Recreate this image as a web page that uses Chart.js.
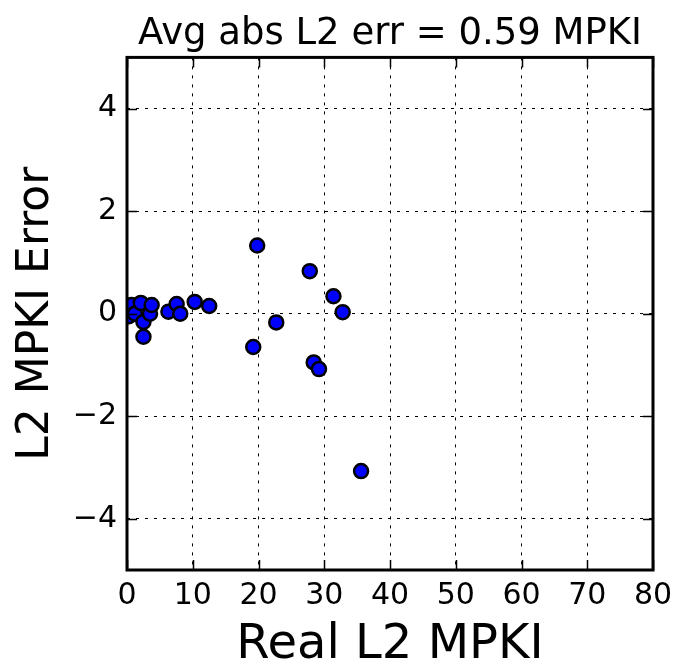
<!DOCTYPE html>
<html>
<head>
<meta charset="utf-8">
<script src="https://cdn.jsdelivr.net/npm/chart.js@4/dist/chart.umd.min.js"></script>
<style>
  html, body { margin: 0; padding: 0; background: #fff; }
  #wrap { width: 681px; height: 668px; }
</style>
</head>
<body>
<div id="wrap"><canvas id="chart" width="681" height="668"></canvas></div>
<script>
// --- data ---
const realMpki = [0.3, 0.7, 1.2, 2.1, 2.5, 2.5, 3.5, 3.75, 6.3, 7.55, 8.1, 10.3, 12.5,
                  19.2, 19.8, 22.7, 27.8, 28.4, 29.2, 31.4, 32.8, 35.6];
const mpkiError = [-0.05, 0.17, 0.0, 0.21, -0.16, -0.45, 0.0, 0.17, 0.04, 0.19, 0.0, 0.23, 0.15,
                   -0.65, 1.33, -0.17, 0.83, -0.95, -1.08, 0.34, 0.03, -3.07];
const xTicks = [0, 10, 20, 30, 40, 50, 60, 70, 80];
const yTicks = [-4, -2, 0, 2, 4];
const titleText = 'Avg abs L2 err = 0.59 MPKI';
const xLabel = 'Real L2 MPKI';
const yLabel = 'L2 MPKI Error';

const FONT = "'DejaVu Sans', sans-serif";

// frame + inward tick marks like matplotlib
const framePlugin = {
    id: 'frame',
    afterDatasetsDraw(chart) {
        const { ctx, chartArea: a, scales } = chart;
        const len = 10;
        ctx.save();
        ctx.strokeStyle = '#000';
        ctx.lineWidth = 1.5;
        ctx.beginPath();
        xTicks.forEach(v => {
            const x = Math.round(scales.x.getPixelForValue(v)) + 0.5;
            ctx.moveTo(x, a.bottom); ctx.lineTo(x, a.bottom - len);
            ctx.moveTo(x, a.top); ctx.lineTo(x, a.top + len);
        });
        yTicks.forEach(v => {
            const y = Math.round(scales.y.getPixelForValue(v)) + 0.5;
            ctx.moveTo(a.left, y); ctx.lineTo(a.left + len, y);
            ctx.moveTo(a.right, y); ctx.lineTo(a.right - len, y);
        });
        ctx.stroke();
        ctx.lineWidth = 3;
        ctx.strokeRect(a.left, a.top, a.right - a.left, a.bottom - a.top);
        ctx.restore();
    }
};

const gridOpts = {
    color: '#000',
    lineWidth: 1,
    drawTicks: false
};

new Chart(document.getElementById('chart').getContext('2d'), {
    type: 'scatter',
    data: {
        datasets: [{
            data: realMpki.map((x, i) => ({ x: x, y: mpkiError[i] })),
            backgroundColor: '#0000ff',
            borderColor: '#000',
            borderWidth: 2.5,
            pointRadius: 7,
            pointHoverRadius: 7
        }]
    },
    options: {
        responsive: false,
        animation: false,
        events: [],
        layout: { padding: { left: 0, right: 28, top: 0, bottom: 0 } },
        plugins: {
            legend: { display: false },
            tooltip: { enabled: false },
            title: {
                display: true,
                text: titleText,
                fullSize: false,
                color: '#000',
                font: { family: FONT, size: 37, weight: 'normal' },
                padding: { top: 12, bottom: 1 }
            }
        },
        scales: {
            x: {
                type: 'linear',
                min: 0,
                max: 80,
                afterBuildTicks: s => { s.ticks = xTicks.map(v => ({ value: v })); },
                afterFit: s => { s.height = 98; },
                grid: Object.assign({}, gridOpts),
                border: { display: false, dash: [3, 6] },
                ticks: {
                    color: '#000',
                    padding: 8,
                    maxRotation: 0,
                    font: { family: FONT, size: 30 }
                },
                title: {
                    display: true,
                    text: xLabel,
                    color: '#000',
                    font: { family: FONT, size: 48 },
                    padding: { top: 0, bottom: -6 }
                }
            },
            y: {
                type: 'linear',
                min: -5,
                max: 5,
                afterBuildTicks: s => { s.ticks = yTicks.map(v => ({ value: v })); },
                afterFit: s => { s.width = 127; },
                grid: Object.assign({}, gridOpts),
                border: { display: false, dash: [3, 6] },
                ticks: {
                    color: '#000',
                    padding: 10,
                    font: { family: FONT, size: 30 },
                    callback: v => v < 0 ? '\u2212' + Math.abs(v) : String(v)
                },
                title: {
                    display: true,
                    text: yLabel,
                    color: '#000',
                    font: { family: FONT, size: 44 },
                    padding: { top: 10, bottom: 0 }
                }
            }
        }
    },
    plugins: [framePlugin]
});
</script>
</body>
</html>
